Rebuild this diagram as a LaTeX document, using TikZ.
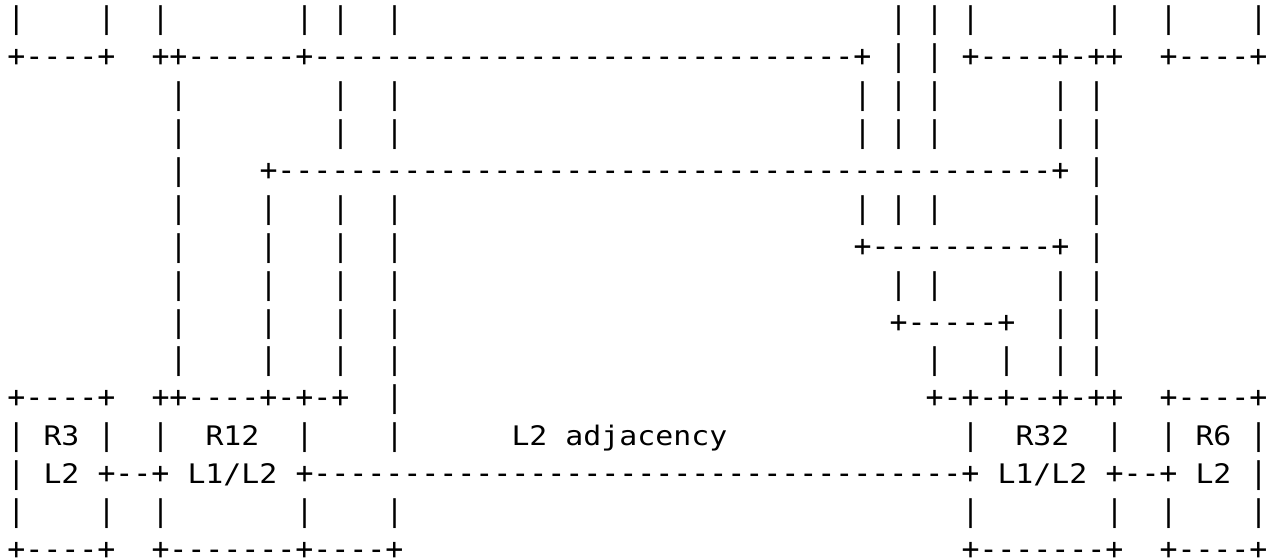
\documentclass[tikz,border=0pt]{standalone}
\usepackage{fontspec}
\setmonofont{DejaVu Sans Mono}
\newfontfamily\routerfont{DejaVu Sans Mono}[Scale=0.9,FakeStretch=1.11]

% n hyphens in a row
\ExplSyntaxOn
\cs_new:Npn \dashrun #1 { \prg_replicate:nn {#1} {-} }
\ExplSyntaxOff

\tikzset{
  glyph/.style={anchor=base west, inner sep=0pt, outer sep=0pt,
    font=\fontsize{22.42pt}{26pt}\selectfont\ttfamily},
  tag/.style={glyph, font=\fontsize{22.42pt}{26pt}\selectfont\routerfont},
}

% one line of the character grid: column/text pairs placed on row #2
\newcommand\artrow[3][glyph]{%
  \foreach \col/\s in {#3}{%
    \node[#1] (g-#2-\col) at ({5.625pt+\col*13.5pt},{-21.6pt-#2*28.425pt}) {\s};
  }%
}

\begin{document}
\begin{tikzpicture}
\useasboundingbox (0,0) rectangle (959.25pt,-418.5pt);

\artrow{0}{0/|,5/|,8/|,16/|,18/|,21/|,49/|,51/|,53/|,61/|,64/|,69/|}
\artrow{1}{0/{+\dashrun{4}+},8/{++\dashrun{6}+\dashrun{30}+},49/|,51/|,53/{+\dashrun{4}+-++},64/{+\dashrun{4}+}}
\artrow{2}{9/|,18/|,21/|,47/|,49/|,51/|,58/|,60/|}
\artrow{3}{9/|,18/|,21/|,47/|,49/|,51/|,58/|,60/|}
\artrow{4}{9/|,14/{+\dashrun{43}+},60/|}
\artrow{5}{9/|,14/|,18/|,21/|,47/|,49/|,51/|,60/|}
\artrow{6}{9/|,14/|,18/|,21/|,47/{+\dashrun{10}+},60/|}
\artrow{7}{9/|,14/|,18/|,21/|,49/|,51/|,58/|,60/|}
\artrow{8}{9/|,14/|,18/|,21/|,49/{+\dashrun{5}+},58/|,60/|}
\artrow{9}{9/|,14/|,18/|,21/|,51/|,55/|,58/|,60/|}
\artrow{10}{0/{+\dashrun{4}+},8/{++\dashrun{4}+-+-+},21/|,51/{+-+-+--+-++},64/{+\dashrun{4}+}}
\artrow{11}{0/|,5/|,8/|,16/|,21/|,53/|,61/|,64/|,69/|}
\artrow[tag]{11}{2/R3,11/R12,28/{L2 adjacency},56/R32,66/R6}
\artrow{12}{0/|,5/{+--+},16/{+\dashrun{36}+},61/{+--+},69/|}
\artrow[tag]{12}{2/L2,10/{L1/L2},55/{L1/L2},66/L2}
\artrow{13}{0/|,5/|,8/|,16/|,21/|,53/|,61/|,64/|,69/|}
\artrow{14}{0/{+\dashrun{4}+},8/{+\dashrun{7}+\dashrun{4}+},53/{+\dashrun{7}+},64/{+\dashrun{4}+}}
\end{tikzpicture}
\end{document}
